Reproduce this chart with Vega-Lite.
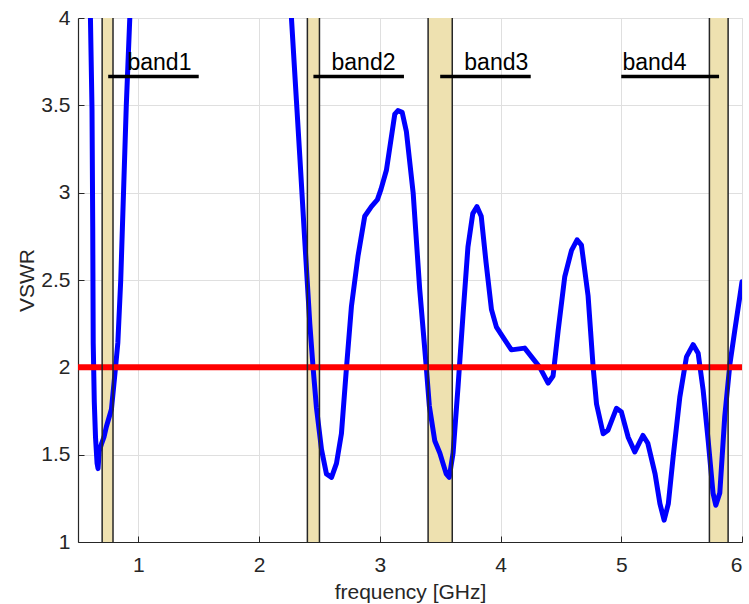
{
  "$schema": "https://vega.github.io/schema/vega-lite/v6.json",
  "width": 664,
  "height": 524,
  "autosize": {"type": "none"},
  "padding": {"left": 78, "top": 18, "right": 7, "bottom": 62},
  "background": "white",
  "config": {
    "view": {"stroke": "#D6D6D6", "strokeWidth": 1},
    "font": "Liberation Sans",
    "axis": {
      "labelFont": "Liberation Sans",
      "titleFont": "Liberation Sans",
      "labelFontSize": 21,
      "titleFontSize": 21,
      "labelColor": "#262626",
      "titleColor": "#262626",
      "titleFontWeight": "normal",
      "domainColor": "#262626",
      "domainWidth": 1.2,
      "tickColor": "#262626",
      "tickSize": -6,
      "tickWidth": 1,
      "gridColor": "#DFDFDF",
      "gridWidth": 1,
      "format": "~g"
    }
  },
  "datasets": {
    "vswr": [
      {"f": 0.598, "v": 4.4},
      {"f": 0.603, "v": 4.0},
      {"f": 0.616, "v": 3.48},
      {"f": 0.622, "v": 2.8},
      {"f": 0.626, "v": 2.14},
      {"f": 0.635, "v": 1.8},
      {"f": 0.645, "v": 1.6},
      {"f": 0.658, "v": 1.45},
      {"f": 0.666, "v": 1.42},
      {"f": 0.676, "v": 1.52},
      {"f": 0.694, "v": 1.56},
      {"f": 0.715, "v": 1.6},
      {"f": 0.735, "v": 1.66},
      {"f": 0.777, "v": 1.76},
      {"f": 0.804, "v": 1.95},
      {"f": 0.83, "v": 2.14},
      {"f": 0.854, "v": 2.5},
      {"f": 0.877, "v": 3.0},
      {"f": 0.9, "v": 3.5},
      {"f": 0.929, "v": 4.0},
      {"f": 0.94, "v": 4.4},
      {"f": 2.26, "v": 4.4},
      {"f": 2.268, "v": 4.0},
      {"f": 2.309, "v": 3.53},
      {"f": 2.337, "v": 3.21},
      {"f": 2.378, "v": 2.73},
      {"f": 2.42, "v": 2.25},
      {"f": 2.447, "v": 2.0},
      {"f": 2.475, "v": 1.77},
      {"f": 2.517, "v": 1.53},
      {"f": 2.558, "v": 1.39},
      {"f": 2.6, "v": 1.37},
      {"f": 2.641, "v": 1.45},
      {"f": 2.682, "v": 1.62},
      {"f": 2.724, "v": 2.0},
      {"f": 2.765, "v": 2.35},
      {"f": 2.82, "v": 2.64},
      {"f": 2.875, "v": 2.865},
      {"f": 2.93, "v": 2.92},
      {"f": 2.98, "v": 2.96},
      {"f": 3.01, "v": 3.02},
      {"f": 3.055, "v": 3.13},
      {"f": 3.124, "v": 3.45},
      {"f": 3.15, "v": 3.47},
      {"f": 3.185, "v": 3.46},
      {"f": 3.22, "v": 3.35},
      {"f": 3.276, "v": 3.0},
      {"f": 3.33, "v": 2.45},
      {"f": 3.385, "v": 2.0},
      {"f": 3.41, "v": 1.78},
      {"f": 3.455, "v": 1.58},
      {"f": 3.497, "v": 1.51},
      {"f": 3.55, "v": 1.39},
      {"f": 3.575, "v": 1.37},
      {"f": 3.607, "v": 1.51},
      {"f": 3.648, "v": 1.89},
      {"f": 3.69, "v": 2.31},
      {"f": 3.73, "v": 2.69},
      {"f": 3.77, "v": 2.88},
      {"f": 3.805, "v": 2.92},
      {"f": 3.84, "v": 2.865},
      {"f": 3.88, "v": 2.6},
      {"f": 3.925, "v": 2.33},
      {"f": 3.966, "v": 2.23},
      {"f": 4.035, "v": 2.157},
      {"f": 4.09, "v": 2.1},
      {"f": 4.2, "v": 2.11},
      {"f": 4.257, "v": 2.06},
      {"f": 4.325, "v": 2.0},
      {"f": 4.394, "v": 1.91},
      {"f": 4.435, "v": 1.95},
      {"f": 4.477, "v": 2.21},
      {"f": 4.532, "v": 2.52},
      {"f": 4.588, "v": 2.67},
      {"f": 4.634, "v": 2.73},
      {"f": 4.67, "v": 2.7},
      {"f": 4.725, "v": 2.41},
      {"f": 4.767, "v": 2.0},
      {"f": 4.795, "v": 1.79},
      {"f": 4.85, "v": 1.62},
      {"f": 4.89, "v": 1.64},
      {"f": 4.96, "v": 1.765},
      {"f": 5.0, "v": 1.746},
      {"f": 5.057, "v": 1.6},
      {"f": 5.112, "v": 1.516},
      {"f": 5.18, "v": 1.61},
      {"f": 5.22, "v": 1.565},
      {"f": 5.28, "v": 1.39},
      {"f": 5.32, "v": 1.22},
      {"f": 5.355, "v": 1.125},
      {"f": 5.39, "v": 1.22},
      {"f": 5.43, "v": 1.49},
      {"f": 5.485, "v": 1.83},
      {"f": 5.54, "v": 2.06},
      {"f": 5.595, "v": 2.13},
      {"f": 5.637, "v": 2.08},
      {"f": 5.678, "v": 1.87},
      {"f": 5.72, "v": 1.58},
      {"f": 5.76, "v": 1.28},
      {"f": 5.783, "v": 1.21},
      {"f": 5.816, "v": 1.28},
      {"f": 5.857, "v": 1.717},
      {"f": 5.9, "v": 2.02},
      {"f": 5.94, "v": 2.21},
      {"f": 5.982, "v": 2.405},
      {"f": 6.0, "v": 2.49}
    ],
    "bands": [
      {"band": "band1", "lo": 0.7, "hi": 0.79, "l1": 0.75, "l2": 1.5, "tx": 0.91, "ly": 3.665, "ty": 3.7},
      {"band": "band2", "lo": 2.4, "hi": 2.5, "l1": 2.45, "l2": 3.2, "tx": 2.6, "ly": 3.665, "ty": 3.7},
      {"band": "band3", "lo": 3.4, "hi": 3.6, "l1": 3.5, "l2": 4.25, "tx": 3.7, "ly": 3.665, "ty": 3.7},
      {"band": "band4", "lo": 5.73, "hi": 5.885, "l1": 5.0, "l2": 5.81, "tx": 5.01, "ly": 3.665, "ty": 3.7}
    ],
    "edges": [
      {"e": 0.7}, {"e": 0.79}, {"e": 2.4}, {"e": 2.5},
      {"e": 3.4}, {"e": 3.6}, {"e": 5.73}, {"e": 5.885}
    ],
    "limit": [{"v": 2}]
  },
  "layer": [
    {
      "data": {"name": "bands"},
      "mark": {"type": "rect", "color": "#EEE1B0", "opacity": 1},
      "encoding": {
        "x": {
          "field": "lo", "type": "quantitative",
          "scale": {"domain": [0.5, 6], "nice": false, "zero": false},
          "axis": {
            "values": [1, 2, 3, 4, 5, 6],
            "title": "frequency [GHz]",
            "labelPadding": 18,
            "titleX": 332,
            "titleY": 56,
            "titleBaseline": "alphabetic",
            "titleAnchor": null
          }
        },
        "x2": {"field": "hi"}
      }
    },
    {
      "data": {"name": "vswr"},
      "mark": {"type": "line", "color": "#0000FF", "strokeWidth": 5, "clip": true, "strokeJoin": "round", "strokeCap": "round"},
      "encoding": {
        "x": {"field": "f", "type": "quantitative"},
        "y": {
          "field": "v", "type": "quantitative",
          "scale": {"domain": [1, 4], "nice": false, "zero": false},
          "axis": {
            "values": [1, 1.5, 2, 2.5, 3, 3.5, 4],
            "title": "VSWR",
            "labelPadding": 14,
            "titleX": -51,
            "titleY": 262,
            "titleAngle": -90,
            "titleBaseline": "middle",
            "titleAlign": "center"
          }
        }
      }
    },
    {
      "data": {"name": "limit"},
      "mark": {"type": "rule", "color": "#FF0000", "strokeWidth": 6},
      "encoding": {"y": {"field": "v", "type": "quantitative"}}
    },
    {
      "data": {"name": "edges"},
      "mark": {"type": "rule", "color": "#262626", "strokeWidth": 1.5},
      "encoding": {"x": {"field": "e", "type": "quantitative"}}
    },
    {
      "data": {"name": "bands"},
      "mark": {"type": "rule", "color": "#000000", "strokeWidth": 3.5},
      "encoding": {
        "x": {"field": "l1", "type": "quantitative"},
        "x2": {"field": "l2"},
        "y": {"field": "ly", "type": "quantitative"}
      }
    },
    {
      "data": {"name": "bands"},
      "mark": {"type": "text", "font": "Liberation Sans", "fontSize": 23, "color": "#000000", "align": "left", "baseline": "alphabetic"},
      "encoding": {
        "x": {"field": "tx", "type": "quantitative"},
        "y": {"field": "ty", "type": "quantitative"},
        "text": {"field": "band"}
      }
    }
  ]
}
